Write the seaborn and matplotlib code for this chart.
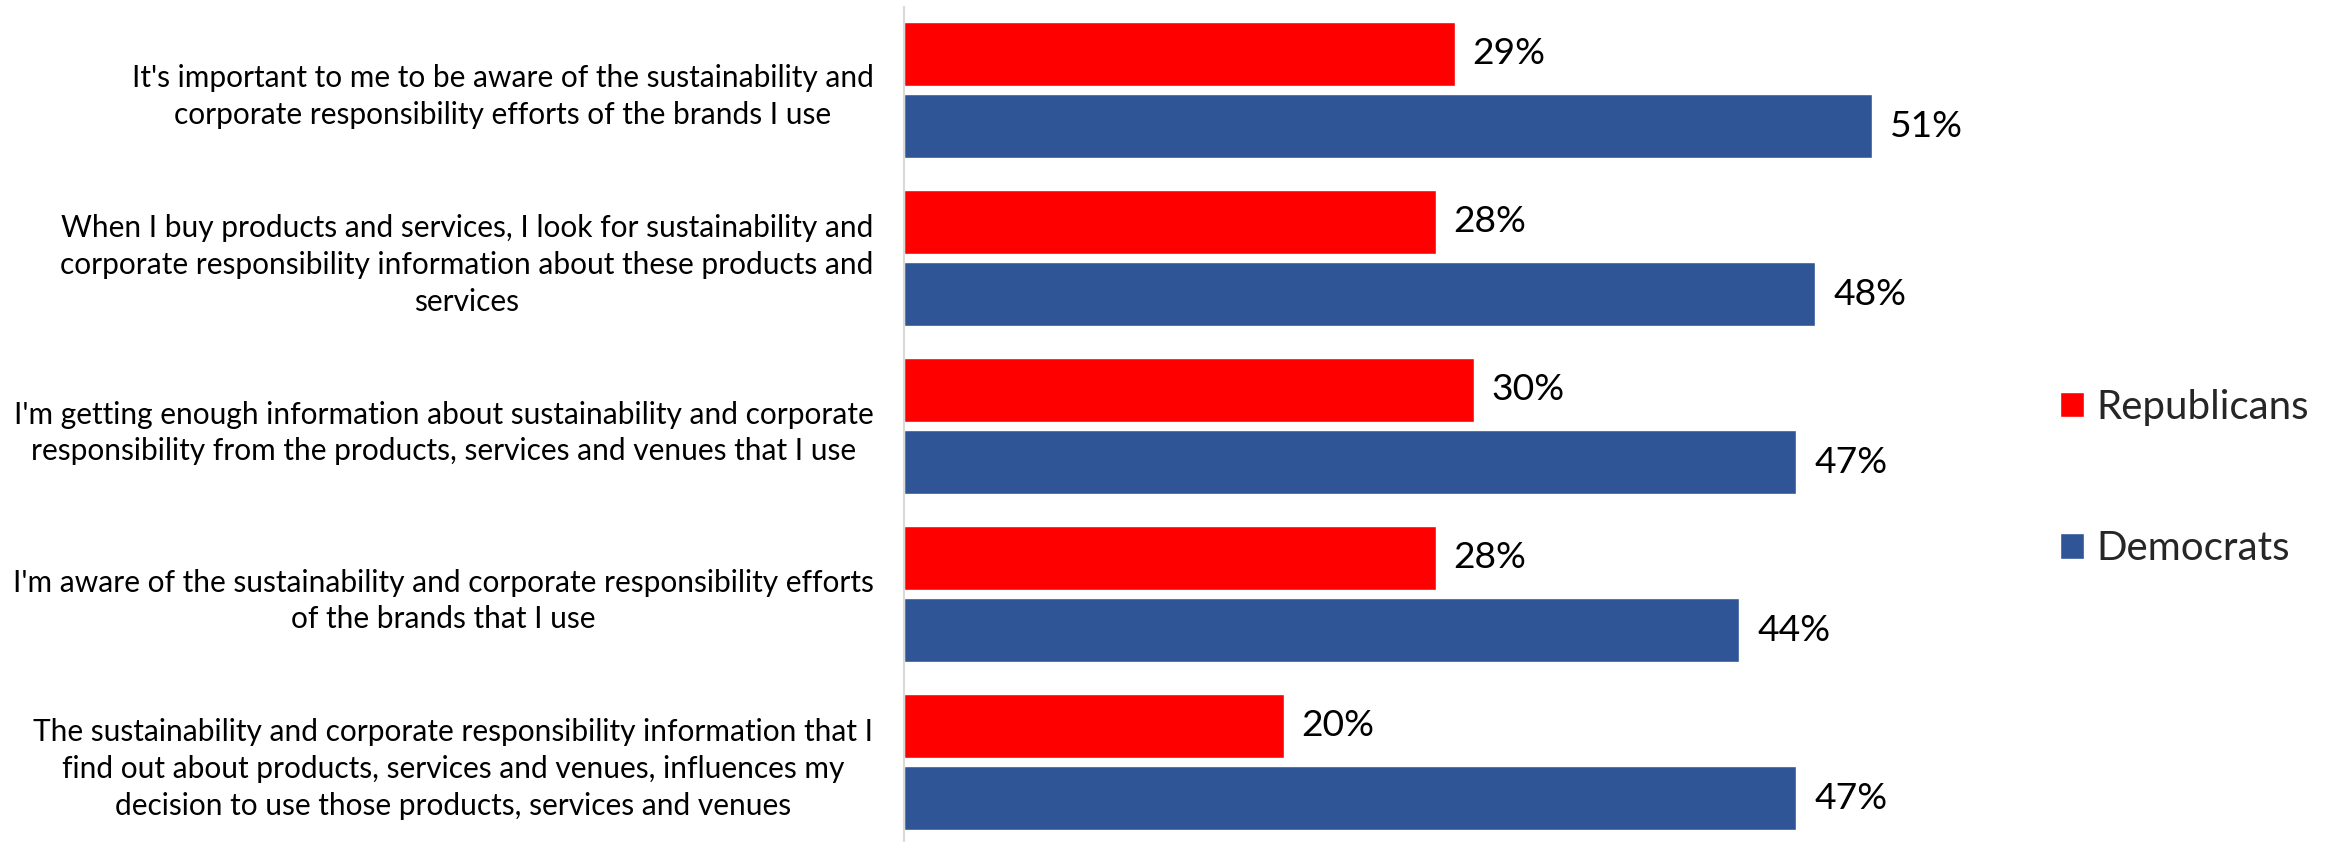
import matplotlib
matplotlib.use("Agg")
import matplotlib.pyplot as plt
from matplotlib import font_manager
import seaborn as sns
import pandas as pd

# Survey statements (wrapped as shown on the axis)
statements = [
    "It's important to me to be aware of the sustainability and\ncorporate responsibility efforts of the brands I use",
    "When I buy products and services, I look for sustainability and\ncorporate responsibility information about these products and\nservices",
    "I'm getting enough information about sustainability and corporate\nresponsibility from the products, services and venues that I use",
    "I'm aware of the sustainability and corporate responsibility efforts\nof the brands that I use",
    "The sustainability and corporate responsibility information that I\nfind out about products, services and venues, influences my\ndecision to use those products, services and venues",
]
groups = ["Republicans", "Democrats"]
republicans = [29, 28, 30, 28, 20]
democrats = [51, 48, 47, 44, 47]
colors = {"Republicans": "#FF0000", "Democrats": "#2F5597"}

installed = {f.name for f in font_manager.fontManager.ttflist}
main_font = "Lato" if "Lato" in installed else "DejaVu Sans"

df = pd.DataFrame({
    "statement": statements * 2,
    "party": [groups[0]] * len(statements) + [groups[1]] * len(statements),
    "pct": republicans + democrats,
})

sns.set_theme(style="white")
plt.rcParams["font.family"] = [main_font, "DejaVu Sans"]

W, H = 2331, 842
fig = plt.figure(figsize=(W / 100, H / 100), dpi=100)
ax = fig.add_axes([904 / W, 0, 1139 / W, 835 / H])

sns.barplot(data=df, y="statement", x="pct", hue="party", hue_order=groups,
            palette=colors, orient="h", width=0.86, gap=0.116,
            saturation=1, errorbar=None, ax=ax)

ax.set_xlim(0, 60)
ax.set_ylim(4.476, -0.494)
ax.set_xlabel("")
ax.set_ylabel("")
ax.set_xticks([])

for spine in ("top", "right", "bottom"):
    ax.spines[spine].set_visible(False)
ax.spines["left"].set_color("#d9d9d9")
ax.spines["left"].set_linewidth(1.5)

ax.tick_params(axis="y", length=0, pad=22)
for lab in ax.get_yticklabels():
    lab.set_multialignment("center")
    lab.set_fontsize(21.5)
    lab.set_linespacing(1.38)
    lab.set_color("black")

for cont in ax.containers:
    ax.bar_label(cont, labels=[f"{v:.0f}%" for v in cont.datavalues],
                 padding=13, fontsize=26.8, color="black")

handles, labels = ax.get_legend_handles_labels()
ax.get_legend().remove()
fig.legend(handles, labels, loc="center left",
           bbox_to_anchor=(2060 / W, 1 - 478 / H), frameon=False,
           fontsize=29, handlelength=0.6, handleheight=0.6,
           handletextpad=0.3, labelspacing=2.6, borderpad=0, borderaxespad=0)

fig.savefig("out.png", dpi=100, facecolor="white")
